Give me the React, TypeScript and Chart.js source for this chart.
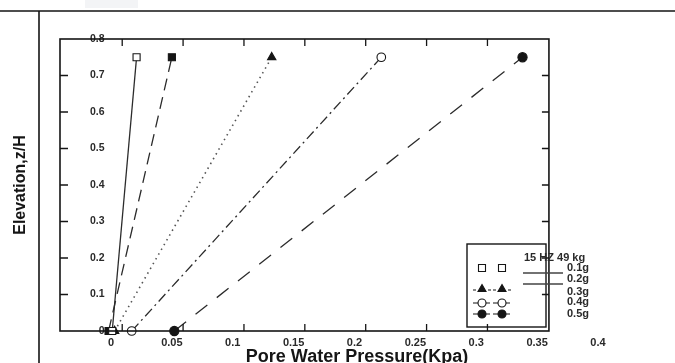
import React, { useEffect, useRef } from 'react';
import { Chart, registerables } from 'chart.js';

Chart.register(...registerables);

// ---- data ----
const seriesLabels = ['0.1g', '0.2g', '0.3g', '0.4g', '0.5g'];
const elevations = [0, 0.75];
const pressure01g = [0.001, 0.021];
const pressure02g = [-0.002, 0.05];
const pressure03g = [0.003, 0.132];
const pressure04g = [0.017, 0.222];
const pressure05g = [0.052, 0.338];
const xTickValues = [0, 0.05, 0.1, 0.15, 0.2, 0.25, 0.3, 0.35, 0.4];
const xTickLabels = ['0', '0.05', '0.1', '0.15', '0.2', '0.25', '0.3', '0.35', '0.4'];
const yTickValues = [0, 0.1, 0.2, 0.3, 0.4, 0.5, 0.6, 0.7, 0.8];
const yTickLabels = ['0', '0.1', '0.2', '0.3', '0.4', '0.5', '0.6', '0.7', '0.8'];
const legendTitle = '15 HZ 49 kg';
const xTitle = 'Pore Water Pressure(Kpa)';
const yTitle = 'Elevation,z/H';

const FONT = "'Liberation Sans', Arial, sans-serif";
const INK = '#151515';
const TEXT = '#2a2a2a';
const FRAME_X_MAX = 0.3597;
const TICK_SHIFT = 0.0092;

const toPoints = (xs: number[]) => elevations.map((e, i) => ({ x: xs[i], y: e }));

function marker(ctx: CanvasRenderingContext2D, style: string, x: number, y: number, filled: boolean) {
  ctx.beginPath();
  if (style === 'rect') {
    ctx.rect(x - 3.5, y - 3.5, 7, 7);
  } else if (style === 'triangle') {
    ctx.moveTo(x, y - 4.5);
    ctx.lineTo(x + 4, y + 2.5);
    ctx.lineTo(x - 4, y + 2.5);
    ctx.closePath();
  } else {
    ctx.arc(x, y, 4, 0, Math.PI * 2);
  }
  ctx.fillStyle = filled ? INK : '#ffffff';
  ctx.fill();
  ctx.lineWidth = 1.1;
  ctx.strokeStyle = INK;
  ctx.stroke();
}

const decor = {
  id: 'decor',
  afterDraw(chart: any) {
    const { ctx, chartArea: a, scales } = chart;
    const xs = scales.x;
    const ys = scales.y;
    const right = xs.getPixelForValue(FRAME_X_MAX);
    ctx.save();
    // faint scan smudge at top
    ctx.fillStyle = '#f3f4f6';
    ctx.fillRect(85, 0, 53, 8);
    // page rules
    ctx.strokeStyle = INK;
    ctx.lineWidth = 1.6;
    ctx.beginPath();
    ctx.moveTo(0, 11);
    ctx.lineTo(675, 11);
    ctx.moveTo(39, 11);
    ctx.lineTo(39, 363);
    ctx.stroke();
    // frame
    ctx.lineWidth = 1.6;
    ctx.strokeRect(a.left, a.top, right - a.left, a.bottom - a.top);
    // inward ticks
    ctx.lineWidth = 1.3;
    ctx.beginPath();
    xTickValues.forEach((v) => {
      const px = xs.getPixelForValue(v + TICK_SHIFT);
      if (px < right - 3) {
        ctx.moveTo(px, a.bottom);
        ctx.lineTo(px, a.bottom - 7);
        ctx.moveTo(px, a.top);
        ctx.lineTo(px, a.top + 7);
      }
    });
    yTickValues.forEach((v, i) => {
      if (i === 0 || i === yTickValues.length - 1) return;
      const py = ys.getPixelForValue(v);
      ctx.moveTo(a.left, py);
      ctx.lineTo(a.left + 8, py);
      ctx.moveTo(right, py);
      ctx.lineTo(right - 7, py);
    });
    ctx.stroke();
    // legend box
    const lx = 467, ly = 244, lw = 79, lh = 83;
    ctx.lineWidth = 1.4;
    ctx.strokeRect(lx, ly, lw, lh);
    ctx.beginPath();
    ctx.moveTo(523, 273);
    ctx.lineTo(563, 273);
    ctx.moveTo(523, 284);
    ctx.lineTo(563, 284);
    ctx.strokeStyle = '#444';
    ctx.stroke();
    // legend symbols
    [482, 502].forEach((sx) => {
      marker(ctx, 'rect', sx, 268, false);
      ctx.strokeStyle = INK;
      ctx.lineWidth = 1.1;
      ctx.beginPath();
      ctx.moveTo(sx - 9, 290);
      ctx.lineTo(sx - 6, 290);
      ctx.moveTo(sx + 6, 290);
      ctx.lineTo(sx + 9, 290);
      ctx.moveTo(sx - 9, 303);
      ctx.lineTo(sx + 8, 303);
      ctx.moveTo(sx - 9, 314);
      ctx.lineTo(sx + 8, 314);
      ctx.stroke();
      marker(ctx, 'triangle', sx, 289, true);
      marker(ctx, 'circle', sx, 303, false);
      marker(ctx, 'circle', sx, 314, true);
    });
    // legend text
    ctx.fillStyle = TEXT;
    ctx.font = `bold 11px ${FONT}`;
    ctx.textBaseline = 'middle';
    ctx.textAlign = 'left';
    ctx.fillText(legendTitle, 524, 258);
    const rows = [268, 279, 292, 302, 314];
    seriesLabels.forEach((s, i) => ctx.fillText(s, 567, rows[i]));
    ctx.restore();
  },
};

export default function App() {
  const ref = useRef<HTMLCanvasElement>(null);
  useEffect(() => {
    if (!ref.current) return;
    const base = {
      showLine: true,
      clip: false,
      borderColor: '#2b2b2b',
      borderWidth: 1.3,
      pointBorderColor: INK,
      pointBorderWidth: 1.1,
      tension: 0,
    };
    const chart = new Chart(ref.current, {
      type: 'scatter',
      data: {
        datasets: [
          { ...base, label: seriesLabels[0], data: toPoints(pressure01g), pointStyle: 'rect', pointRadius: 5, pointBackgroundColor: '#ffffff', borderDash: [] },
          { ...base, label: seriesLabels[1], data: toPoints(pressure02g), pointStyle: 'rect', pointRadius: 5, pointBackgroundColor: INK, borderDash: [12, 7] },
          { ...base, label: seriesLabels[2], data: toPoints(pressure03g), pointStyle: 'triangle', pointRadius: 4.8, pointBackgroundColor: INK, borderDash: [1.5, 4], borderColor: '#555', borderWidth: 1.6 },
          { ...base, label: seriesLabels[3], data: toPoints(pressure04g), pointStyle: 'circle', pointRadius: 4.3, pointBackgroundColor: '#ffffff', borderDash: [10, 4, 2, 4] },
          { ...base, label: seriesLabels[4], data: toPoints(pressure05g), pointStyle: 'circle', pointRadius: 4.6, pointBackgroundColor: INK, borderDash: [15, 12] },
        ],
      },
      options: {
        responsive: false,
        animation: false,
        events: [],
        layout: { padding: { left: 0, right: 21, top: 39, bottom: 0 } },
        plugins: { legend: { display: false }, tooltip: { enabled: false } },
        scales: {
          x: {
            type: 'linear',
            position: 'bottom',
            min: -0.0419,
            max: 0.446,
            afterBuildTicks: (s: any) => {
              s.ticks = xTickValues.map((v) => ({ value: v }));
            },
            afterFit: (s: any) => {
              s.height = 32;
              s.paddingLeft = 0;
              s.paddingRight = 0;
            },
            grid: { display: false, drawTicks: false },
            border: { display: false },
            ticks: {
              autoSkip: false,
              maxRotation: 0,
              padding: 5.5,
              color: TEXT,
              font: { family: FONT, size: 11, weight: 'bold' },
              callback: (_v: any, i: number) => xTickLabels[i],
            },
            title: {
              display: true,
              text: xTitle,
              color: INK,
              font: { family: FONT, size: 18, weight: 'bold' },
              padding: { top: 0, bottom: -5 },
            },
          },
          y: {
            type: 'linear',
            position: 'left',
            min: 0,
            max: 0.8,
            afterBuildTicks: (s: any) => {
              s.ticks = yTickValues.map((v) => ({ value: v }));
            },
            afterFit: (s: any) => {
              s.width = 60;
              s.paddingTop = 0;
              s.paddingBottom = 0;
            },
            grid: { display: false, drawTicks: false },
            border: { display: false },
            ticks: {
              mirror: true,
              crossAlign: 'far',
              padding: 30,
              color: TEXT,
              font: { family: FONT, size: 10.5, weight: 'bold' },
              callback: (_v: any, i: number) => yTickLabels[i],
            },
            title: {
              display: true,
              text: yTitle,
              color: INK,
              font: { family: FONT, size: 16, weight: 'bold' },
              padding: { top: 11, bottom: 0 },
            },
          },
        },
      },
      plugins: [decor],
    } as any);
    return () => chart.destroy();
  }, []);
  return (
    <div style={{ position: 'fixed', left: 0, top: 0, width: 675, height: 363, background: '#fff' }}>
      <canvas ref={ref} width={675} height={363} />
    </div>
  );
}
